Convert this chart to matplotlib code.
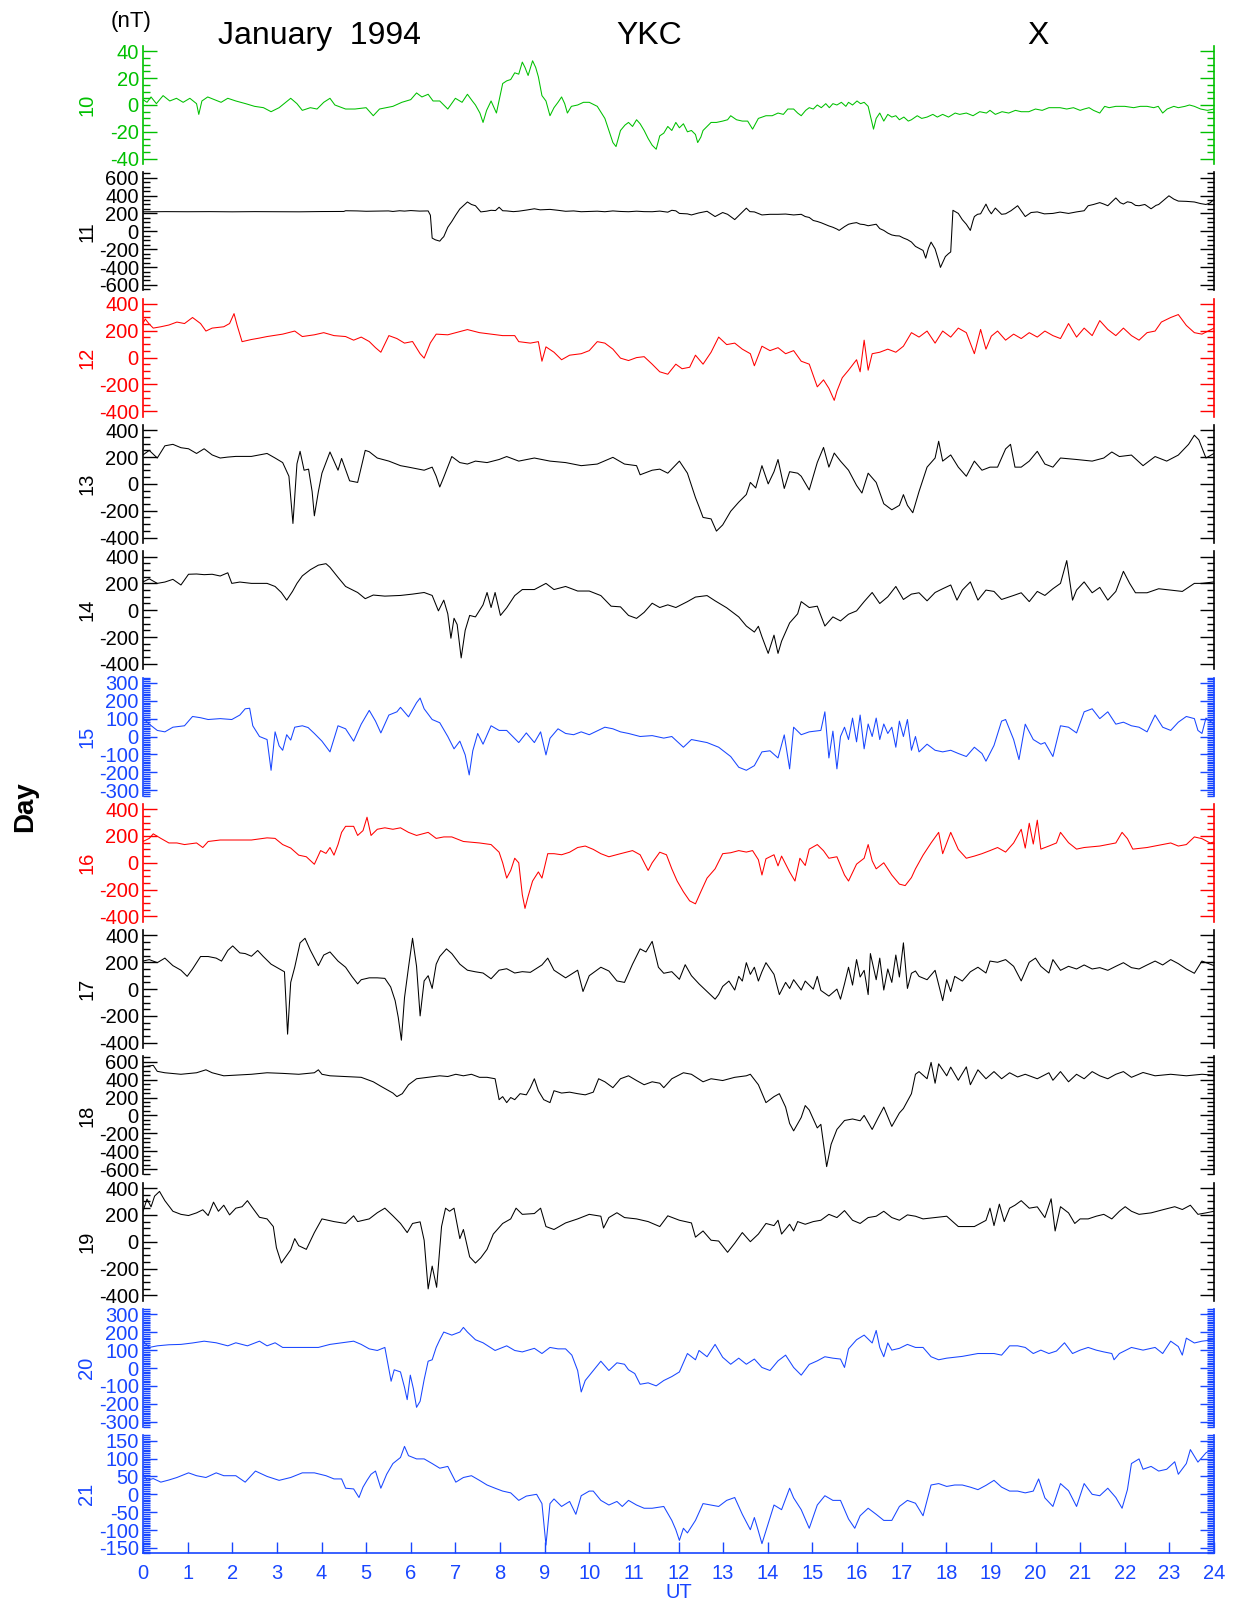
import matplotlib
matplotlib.use("Agg")
import matplotlib.pyplot as plt
from matplotlib.ticker import MultipleLocator

plt.rcParams['font.family'] = ['Liberation Sans', 'DejaVu Sans']
plt.rcParams['axes.unicode_minus'] = False

GREEN = '#00c000'
RED = '#ff0000'
BLUE = '#1846ff'
BLACK = '#000000'

# YKC X component, nT as (UT hour, value) pairs
day10 = [(0.0, 4), (0.09, 2), (0.18, 6), (0.3, 1), (0.45, 7), (0.6, 3), (0.75, 5), (0.9, 2), (1.05, 5), (1.2, 1),
         (1.25, -7), (1.32, 3), (1.45, 6), (1.6, 4), (1.75, 2), (1.9, 5), (2.08, 3), (2.3, 1), (2.5, -1), (2.7, -2),
         (2.87, -5), (3.05, -2), (3.2, 2), (3.31, 5), (3.45, 1), (3.57, -4), (3.75, -2), (3.9, -3), (4.05, 2),
         (4.19, 5), (4.3, 0), (4.54, -3), (4.75, -3), (5.0, -2), (5.16, -8), (5.3, -3), (5.45, -2), (5.6, -1),
         (5.8, 2), (6.0, 4), (6.13, 9), (6.25, 6), (6.39, 8), (6.5, 3), (6.65, 3), (6.83, -3), (7.0, 5), (7.15, 2),
         (7.27, 8), (7.38, 3), (7.45, 0), (7.55, -6), (7.62, -13), (7.7, -4), (7.8, 3), (7.92, -6), (8.06, 16),
         (8.15, 18), (8.24, 19), (8.33, 24), (8.42, 23), (8.5, 32), (8.56, 28), (8.63, 22), (8.73, 33), (8.8, 28),
         (8.86, 21), (8.94, 7), (9.03, 3), (9.12, -8), (9.21, -2), (9.3, 2), (9.38, 6), (9.45, 1), (9.51, -6),
         (9.6, -1), (9.74, 0), (9.87, 2), (10.0, 2), (10.18, -1), (10.35, -10), (10.45, -20), (10.53, -28),
         (10.6, -31), (10.7, -19), (10.8, -15), (10.88, -13), (10.97, -16), (11.06, -11), (11.14, -14),
         (11.23, -19), (11.32, -25), (11.41, -30), (11.5, -33), (11.58, -23), (11.67, -21), (11.76, -16),
         (11.85, -19), (11.94, -13), (12.02, -17), (12.11, -14), (12.2, -20), (12.29, -19), (12.38, -22),
         (12.43, -28), (12.5, -24), (12.55, -19), (12.64, -16), (12.73, -13), (12.85, -13), (12.99, -12),
         (13.1, -11), (13.17, -8), (13.3, -11), (13.43, -12), (13.55, -12), (13.66, -18), (13.79, -10),
         (13.96, -8), (14.1, -8), (14.23, -6), (14.35, -7), (14.45, -3), (14.58, -3), (14.67, -6), (14.75, -8),
         (14.85, -4), (14.93, -2), (15.02, -3), (15.11, 0), (15.2, -2), (15.3, 1), (15.38, -2), (15.46, 1),
         (15.55, 0), (15.65, 2), (15.75, -1), (15.81, 2), (15.9, 0), (16.0, 3), (16.08, 1), (16.16, 2),
         (16.25, -1), (16.3, -8), (16.37, -18), (16.43, -10), (16.51, -6), (16.6, -12), (16.69, -7), (16.78, -9),
         (16.87, -8), (16.95, -11), (17.05, -9), (17.15, -12), (17.22, -11), (17.35, -8), (17.45, -10),
         (17.57, -9), (17.7, -7), (17.8, -9), (17.92, -7), (18.05, -9), (18.2, -6), (18.3, -7), (18.45, -6),
         (18.6, -8), (18.75, -5), (18.9, -6), (18.98, -4), (19.1, -7), (19.25, -5), (19.4, -6), (19.55, -4),
         (19.68, -5), (19.85, -5), (20.0, -3), (20.15, -4), (20.3, -2), (20.39, -2), (20.55, -2), (20.7, -3),
         (20.85, -2), (21.0, -4), (21.09, -3), (21.2, -2), (21.3, -4), (21.44, -6), (21.55, -1), (21.65, -2),
         (21.8, -1), (22.0, -1), (22.2, -2), (22.35, -1), (22.5, -1), (22.65, -2), (22.75, -1), (22.85, -6),
         (22.95, -3), (23.1, -1), (23.2, -2), (23.35, -1), (23.45, 0), (23.56, -1), (23.7, -3), (23.85, -4),
         (24.0, -3)]

day11 = [(0.0, 218), (0.5, 220), (1.0, 219), (1.5, 220), (2.0, 218), (2.5, 220), (3.0, 219), (3.5, 218),
         (4.0, 221), (4.5, 222), (4.54, 230), (4.8, 228), (5.0, 224), (5.25, 226), (5.5, 228), (5.6, 222),
         (5.75, 230), (5.86, 226), (6.0, 232), (6.2, 226), (6.39, 228), (6.44, 180), (6.48, -76), (6.55, -95),
         (6.65, -110), (6.7, -80), (6.74, -60), (6.83, 45), (6.92, 110), (7.01, 183), (7.1, 250), (7.18, 286),
         (7.27, 328), (7.36, 300), (7.45, 286), (7.57, 217), (7.7, 225), (7.8, 235), (7.9, 232), (7.98, 269),
         (8.06, 230), (8.15, 228), (8.3, 220), (8.42, 225), (8.6, 238), (8.77, 252), (8.9, 240), (9.12, 245),
         (9.3, 235), (9.47, 224), (9.65, 228), (9.82, 219), (10.0, 222), (10.18, 225), (10.35, 219), (10.53, 228),
         (10.7, 222), (10.88, 219), (11.06, 225), (11.23, 220), (11.41, 219), (11.58, 226), (11.76, 214),
         (11.85, 235), (11.94, 229), (12.02, 200), (12.2, 195), (12.29, 183), (12.45, 205), (12.64, 224),
         (12.82, 165), (12.99, 210), (13.1, 190), (13.26, 131), (13.35, 175), (13.52, 259), (13.6, 220),
         (13.7, 217), (13.87, 183), (14.05, 190), (14.23, 190), (14.4, 193), (14.58, 183), (14.75, 190),
         (14.84, 165), (14.93, 155), (15.02, 121), (15.11, 110), (15.2, 95), (15.28, 79), (15.37, 60), (15.46, 45),
         (15.55, 25), (15.6, 10), (15.72, 52), (15.81, 79), (15.9, 90), (15.99, 97), (16.07, 80), (16.16, 75),
         (16.25, 62), (16.34, 70), (16.43, 79), (16.51, 30), (16.6, 10), (16.69, -20), (16.78, -41), (16.87, -50),
         (16.95, -52), (17.04, -75), (17.13, -93), (17.22, -120), (17.31, -169), (17.39, -190), (17.48, -214),
         (17.54, -300), (17.6, -190), (17.66, -121), (17.75, -197), (17.83, -330), (17.87, -404), (17.92, -350),
         (17.98, -283), (18.05, -250), (18.1, -231), (18.15, 235), (18.2, 220), (18.27, 200), (18.36, 130),
         (18.45, 79), (18.54, 10), (18.6, 120), (18.63, 165), (18.7, 190), (18.77, 196), (18.89, 304), (18.95, 240),
         (19.01, 196), (19.1, 260), (19.15, 235), (19.24, 190), (19.33, 196), (19.45, 230), (19.6, 286),
         (19.7, 215), (19.77, 165), (19.9, 210), (20.04, 217), (20.2, 195), (20.39, 200), (20.55, 215),
         (20.74, 200), (20.92, 217), (21.09, 230), (21.18, 286), (21.3, 300), (21.44, 321), (21.53, 305),
         (21.62, 286), (21.71, 330), (21.8, 373), (21.9, 320), (21.97, 305), (22.06, 330), (22.15, 321),
         (22.24, 290), (22.32, 286), (22.45, 300), (22.59, 252), (22.7, 290), (22.76, 300), (22.9, 360),
         (22.99, 397), (23.1, 360), (23.2, 338), (23.38, 335), (23.56, 328), (23.7, 310), (23.82, 300),
         (23.91, 318), (24.0, 355)]

day12 = [(0.0, 254), (0.05, 288), (0.14, 250), (0.23, 220), (0.4, 230), (0.58, 243), (0.76, 265), (0.93, 254),
         (1.11, 299), (1.29, 254), (1.41, 198), (1.55, 220), (1.81, 230), (1.94, 254), (2.04, 328), (2.11, 240),
         (2.22, 119), (2.43, 135), (2.6, 145), (2.78, 157), (3.0, 168), (3.13, 175), (3.4, 198), (3.57, 157),
         (3.84, 170), (4.05, 186), (4.28, 164), (4.54, 157), (4.72, 130), (4.89, 153), (5.07, 120), (5.21, 74),
         (5.33, 40), (5.51, 164), (5.69, 142), (5.86, 108), (6.04, 120), (6.21, 29), (6.3, -4), (6.44, 110),
         (6.57, 175), (6.83, 170), (7.01, 186), (7.27, 209), (7.54, 186), (7.8, 175), (8.06, 164), (8.33, 164),
         (8.42, 119), (8.68, 108), (8.86, 119), (8.94, -27), (9.03, 80), (9.21, 40), (9.38, -16), (9.56, 18),
         (9.82, 29), (10.0, 52), (10.18, 119), (10.35, 108), (10.53, 63), (10.7, -4), (10.88, -22), (11.06, 0),
         (11.23, 7), (11.41, -49), (11.58, -106), (11.76, -124), (11.94, -49), (12.08, -83), (12.25, -72),
         (12.38, 18), (12.55, -49), (12.73, 40), (12.9, 153), (13.08, 97), (13.26, 108), (13.43, 63), (13.61, 29),
         (13.7, -61), (13.87, 85), (14.05, 52), (14.23, 74), (14.4, 29), (14.58, 52), (14.75, -27), (14.93, -49),
         (15.11, -218), (15.25, -166), (15.37, -229), (15.49, -319), (15.55, -250), (15.67, -150), (15.81, -94),
         (15.99, -16), (16.07, -106), (16.16, 130), (16.25, -94), (16.34, 29), (16.51, 40), (16.69, 63),
         (16.87, 40), (17.04, 85), (17.22, 186), (17.39, 153), (17.57, 198), (17.75, 108), (17.92, 198),
         (18.1, 153), (18.27, 220), (18.45, 186), (18.63, 29), (18.77, 210), (18.89, 63), (19.01, 160),
         (19.15, 198), (19.33, 130), (19.51, 175), (19.68, 142), (19.86, 186), (20.04, 153), (20.21, 198),
         (20.39, 164), (20.56, 142), (20.74, 254), (20.92, 153), (21.09, 220), (21.27, 164), (21.44, 276),
         (21.62, 210), (21.8, 164), (21.97, 220), (22.15, 164), (22.32, 130), (22.5, 186), (22.68, 198),
         (22.82, 265), (23.03, 299), (23.2, 321), (23.38, 240), (23.56, 186), (23.73, 175), (24.0, 220)]

day13 = [(0.0, 216), (0.14, 250), (0.32, 193), (0.49, 284), (0.67, 295), (0.85, 270), (1.02, 262), (1.2, 227),
         (1.37, 262), (1.55, 216), (1.73, 193), (1.9, 200), (2.08, 205), (2.43, 205), (2.78, 227), (2.96, 193),
         (3.13, 159), (3.27, 57), (3.36, -295), (3.45, 150), (3.52, 243), (3.61, 102), (3.71, 110), (3.79, -57),
         (3.84, -238), (3.93, -57), (4.01, 80), (4.19, 238), (4.37, 102), (4.45, 190), (4.63, 23), (4.81, 11),
         (4.98, 250), (5.07, 240), (5.25, 193), (5.51, 170), (5.77, 136), (5.95, 125), (6.3, 102), (6.48, 125),
         (6.57, 57), (6.65, -23), (6.74, 50), (6.92, 204), (7.1, 159), (7.27, 148), (7.45, 170), (7.71, 159),
         (7.98, 182), (8.15, 204), (8.42, 170), (8.77, 193), (9.12, 170), (9.47, 159), (9.82, 136), (10.18, 148),
         (10.53, 198), (10.79, 148), (11.06, 136), (11.14, 68), (11.41, 102), (11.58, 110), (11.76, 80),
         (12.02, 170), (12.2, 80), (12.29, -11), (12.38, -102), (12.46, -170), (12.55, -250), (12.73, -261),
         (12.85, -352), (12.99, -306), (13.17, -204), (13.35, -136), (13.52, -79), (13.61, 11), (13.73, -30),
         (13.87, 136), (14.01, 0), (14.14, 91), (14.23, 182), (14.37, -34), (14.49, 91), (14.67, 80), (14.75, 57),
         (14.93, -45), (15.11, 160), (15.25, 272), (15.37, 125), (15.49, 230), (15.63, 170), (15.81, 102),
         (15.99, -11), (16.11, -68), (16.25, 80), (16.43, 11), (16.6, -148), (16.78, -193), (16.95, -160),
         (17.04, -80), (17.13, -160), (17.25, -215), (17.39, -57), (17.57, 125), (17.75, 193), (17.83, 318),
         (17.92, 170), (18.1, 216), (18.27, 125), (18.45, 57), (18.63, 170), (18.8, 102), (18.98, 125),
         (19.15, 125), (19.33, 261), (19.44, 295), (19.54, 125), (19.68, 125), (19.86, 170), (20.04, 243),
         (20.21, 148), (20.39, 125), (20.56, 193), (20.92, 182), (21.27, 170), (21.53, 193), (21.71, 238),
         (21.88, 204), (22.15, 215), (22.41, 136), (22.68, 204), (22.94, 170), (23.2, 215), (23.43, 295),
         (23.56, 363), (23.66, 329), (23.82, 193), (24.0, 227)]

day14 = [(0.0, 211), (0.14, 234), (0.32, 200), (0.49, 210), (0.67, 230), (0.85, 188), (1.02, 268), (1.2, 270),
         (1.37, 265), (1.55, 268), (1.73, 255), (1.9, 279), (1.99, 200), (2.17, 210), (2.43, 200), (2.78, 200),
         (2.96, 177), (3.1, 132), (3.22, 75), (3.35, 140), (3.45, 200), (3.57, 256), (3.75, 302), (3.93, 336),
         (4.1, 347), (4.19, 320), (4.37, 245), (4.54, 177), (4.81, 132), (4.98, 86), (5.16, 113), (5.42, 105),
         (5.77, 110), (6.04, 120), (6.3, 132), (6.48, 110), (6.62, -5), (6.74, 75), (6.83, -27), (6.9, -209),
         (6.97, -60), (7.04, -107), (7.13, -356), (7.22, -150), (7.32, -39), (7.45, -50), (7.62, 40), (7.71, 132),
         (7.8, 20), (7.89, 132), (8.01, -39), (8.15, 18), (8.33, 109), (8.5, 154), (8.77, 154), (9.03, 200),
         (9.21, 154), (9.47, 177), (9.74, 143), (10.0, 143), (10.26, 109), (10.49, 30), (10.7, 25), (10.88, -39),
         (11.06, -61), (11.23, -16), (11.41, 52), (11.58, 20), (11.76, 40), (11.94, 20), (12.2, 64), (12.38, 98),
         (12.64, 109), (12.82, 70), (13.08, 18), (13.35, -50), (13.52, -118), (13.7, -163), (13.79, -120),
         (13.87, -198), (14.01, -322), (14.14, -186), (14.23, -322), (14.31, -231), (14.49, -95), (14.67, -27),
         (14.75, 64), (14.93, 20), (15.11, 30), (15.28, -118), (15.46, -50), (15.63, -80), (15.81, -30),
         (15.99, -5), (16.16, 64), (16.34, 132), (16.51, 50), (16.69, 100), (16.87, 177), (17.04, 80),
         (17.22, 120), (17.39, 130), (17.57, 70), (17.75, 132), (17.92, 160), (18.1, 188), (18.24, 75),
         (18.36, 150), (18.54, 211), (18.71, 75), (18.89, 150), (19.07, 140), (19.24, 80), (19.51, 110),
         (19.68, 130), (19.86, 64), (20.04, 140), (20.21, 110), (20.39, 160), (20.56, 200), (20.7, 370),
         (20.83, 75), (20.92, 150), (21.09, 211), (21.27, 130), (21.44, 170), (21.62, 75), (21.8, 140),
         (21.97, 290), (22.11, 200), (22.24, 130), (22.5, 130), (22.76, 160), (23.03, 150), (23.29, 140),
         (23.56, 200), (23.73, 200), (24.0, 211)]

day15 = [(0.0, 103), (0.14, 69), (0.32, 34), (0.49, 26), (0.67, 52), (0.93, 60), (1.11, 112), (1.29, 105),
         (1.46, 95), (1.73, 100), (1.99, 95), (2.17, 120), (2.29, 155), (2.39, 158), (2.46, 60), (2.61, 0),
         (2.78, -17), (2.87, -189), (2.96, 26), (3.05, -52), (3.13, -77), (3.22, 10), (3.31, -20), (3.4, 52),
         (3.57, 60), (3.7, 50), (3.84, 17), (4.01, -26), (4.19, -86), (4.37, 60), (4.54, 43), (4.72, -26),
         (4.89, 69), (5.07, 146), (5.21, 86), (5.33, 20), (5.51, 120), (5.69, 138), (5.77, 163), (5.95, 110),
         (6.13, 189), (6.21, 215), (6.3, 155), (6.48, 95), (6.65, 77), (6.83, 0), (6.97, -69), (7.1, -26),
         (7.22, -103), (7.31, -215), (7.39, -80), (7.5, 17), (7.62, -43), (7.8, 60), (7.98, 34), (8.15, 34),
         (8.42, -34), (8.59, 20), (8.77, -34), (8.91, 26), (9.03, -103), (9.12, -10), (9.3, 43), (9.47, 17),
         (9.65, 10), (9.82, 26), (10.0, 10), (10.35, 52), (10.53, 43), (10.7, 26), (10.88, 17), (11.14, 0),
         (11.41, 5), (11.67, -9), (11.85, 0), (12.11, -60), (12.29, -17), (12.64, -34), (12.9, -60), (13.17, -112),
         (13.35, -172), (13.52, -189), (13.7, -163), (13.87, -86), (14.05, -80), (14.23, -120), (14.37, 9),
         (14.49, -181), (14.58, 52), (14.75, 10), (14.93, 26), (15.19, 34), (15.28, 138), (15.37, -120),
         (15.46, 30), (15.55, -181), (15.63, 0), (15.72, 52), (15.81, -17), (15.9, 103), (15.99, -30),
         (16.07, 120), (16.16, -69), (16.25, 70), (16.34, 0), (16.43, 103), (16.51, -17), (16.6, 70), (16.69, 17),
         (16.78, 52), (16.87, -60), (16.95, 86), (17.04, 0), (17.13, 95), (17.22, -77), (17.31, 0), (17.39, -86),
         (17.57, -43), (17.75, -77), (17.92, -86), (18.1, -77), (18.27, -95), (18.45, -112), (18.63, -60),
         (18.8, -95), (18.89, -138), (19.07, -50), (19.24, 86), (19.33, 95), (19.51, -17), (19.63, -129),
         (19.77, 69), (19.95, -17), (20.12, -43), (20.21, -34), (20.39, -112), (20.56, 60), (20.74, 52),
         (20.92, 20), (21.09, 138), (21.27, 155), (21.44, 100), (21.62, 138), (21.8, 69), (21.97, 80), (22.15, 60),
         (22.32, 52), (22.5, 26), (22.68, 120), (22.85, 52), (23.03, 34), (23.2, 80), (23.38, 112), (23.56, 100),
         (23.64, 34), (23.73, 17), (23.82, 103), (24.0, 69)]

day16 = [(0.0, 159), (0.14, 182), (0.23, 216), (0.4, 182), (0.58, 148), (0.76, 148), (0.93, 136), (1.2, 148),
         (1.34, 114), (1.46, 159), (1.73, 170), (2.08, 170), (2.43, 170), (2.78, 186), (2.96, 182), (3.13, 136),
         (3.31, 110), (3.49, 57), (3.66, 45), (3.84, -11), (3.98, 91), (4.1, 70), (4.19, 114), (4.28, 57),
         (4.37, 136), (4.45, 227), (4.54, 272), (4.72, 272), (4.81, 204), (4.93, 240), (5.02, 340), (5.11, 204),
         (5.25, 250), (5.42, 261), (5.6, 250), (5.77, 261), (5.95, 227), (6.13, 204), (6.39, 227), (6.57, 182),
         (6.74, 193), (6.92, 193), (7.18, 159), (7.54, 148), (7.8, 136), (7.98, 79), (8.06, 0), (8.15, -114),
         (8.24, -57), (8.33, 34), (8.42, 0), (8.5, -238), (8.56, -340), (8.63, -250), (8.73, -136), (8.86, -68),
         (8.94, -114), (9.07, 68), (9.21, 68), (9.38, 60), (9.56, 79), (9.74, 114), (9.91, 125), (10.09, 100),
         (10.26, 68), (10.44, 45), (10.7, 68), (10.97, 91), (11.14, 60), (11.32, -57), (11.41, 0), (11.58, 79),
         (11.73, 60), (11.85, -45), (11.97, -136), (12.11, -216), (12.25, -284), (12.38, -306), (12.5, -216),
         (12.64, -114), (12.82, -45), (12.99, 68), (13.17, 75), (13.35, 91), (13.52, 80), (13.66, 91), (13.79, 23),
         (13.87, -91), (13.96, 30), (14.14, 60), (14.23, -23), (14.31, 50), (14.49, -68), (14.61, -136),
         (14.72, 34), (14.84, -20), (14.93, 102), (15.11, 136), (15.25, 90), (15.37, 34), (15.55, 45), (15.72, -91),
         (15.81, -136), (15.99, -10), (16.16, 34), (16.25, 136), (16.34, 15), (16.43, -45), (16.6, 0),
         (16.78, -91), (16.95, -159), (17.08, -170), (17.22, -110), (17.31, -45), (17.48, 57), (17.66, 148),
         (17.83, 227), (17.92, 68), (18.1, 227), (18.27, 100), (18.45, 34), (18.63, 50), (18.8, 68), (18.98, 91),
         (19.15, 114), (19.33, 80), (19.51, 148), (19.68, 250), (19.77, 110), (19.86, 295), (19.95, 140),
         (20.04, 318), (20.12, 102), (20.3, 125), (20.47, 148), (20.56, 227), (20.74, 150), (20.92, 102),
         (21.09, 114), (21.44, 125), (21.8, 148), (21.94, 227), (22.06, 180), (22.18, 102), (22.5, 114),
         (22.85, 136), (23.03, 148), (23.2, 125), (23.38, 136), (23.56, 193), (23.73, 180), (23.91, 148),
         (24.0, 155)]

day17 = [(0.0, 209), (0.14, 220), (0.32, 197), (0.49, 231), (0.67, 175), (0.85, 141), (0.99, 95), (1.11, 150),
         (1.29, 243), (1.46, 243), (1.64, 231), (1.76, 209), (1.9, 288), (2.01, 322), (2.17, 270), (2.29, 265),
         (2.43, 245), (2.57, 288), (2.69, 245), (2.87, 186), (3.05, 152), (3.17, 129), (3.24, -336), (3.31, 50),
         (3.4, 163), (3.52, 345), (3.63, 379), (3.75, 290), (3.93, 175), (4.05, 254), (4.19, 277), (4.37, 209),
         (4.54, 163), (4.68, 95), (4.81, 39), (4.89, 70), (5.07, 84), (5.25, 84), (5.42, 80), (5.55, 16),
         (5.65, -86), (5.72, -211), (5.79, -381), (5.86, -64), (5.95, 163), (6.04, 379), (6.13, 170), (6.21, -200),
         (6.3, 61), (6.39, 100), (6.48, 5), (6.57, 186), (6.65, 243), (6.8, 300), (6.92, 265), (7.1, 186),
         (7.27, 141), (7.45, 129), (7.62, 120), (7.8, 77), (7.98, 141), (8.15, 152), (8.33, 120), (8.5, 130),
         (8.68, 125), (8.86, 163), (8.94, 180), (9.07, 231), (9.21, 141), (9.47, 84), (9.74, 141), (9.86, -18),
         (10.0, 100), (10.26, 163), (10.44, 135), (10.62, 61), (10.79, 50), (10.97, 186), (11.14, 300),
         (11.27, 277), (11.41, 356), (11.55, 163), (11.67, 118), (11.85, 130), (12.02, 73), (12.15, 182),
         (12.29, 100), (12.46, 39), (12.64, -18), (12.82, -75), (12.9, -40), (12.99, 20), (13.13, 60), (13.26, -7),
         (13.35, 95), (13.43, 60), (13.52, 197), (13.61, 110), (13.7, 163), (13.79, 60), (13.87, 130),
         (13.96, 197), (14.14, 110), (14.26, -41), (14.4, 50), (14.49, 5), (14.58, 70), (14.75, -7), (14.84, 60),
         (15.02, 0), (15.11, 95), (15.19, -10), (15.37, -52), (15.55, 0), (15.63, -75), (15.72, 39), (15.81, 163),
         (15.9, 30), (15.99, 220), (16.07, 90), (16.16, 140), (16.25, -41), (16.3, 265), (16.43, 70), (16.51, 231),
         (16.6, -7), (16.69, 150), (16.78, 50), (16.87, 254), (16.95, 90), (17.04, 345), (17.13, 5), (17.22, 118),
         (17.31, 135), (17.39, 95), (17.57, 70), (17.75, 140), (17.92, -86), (18.01, 70), (18.1, -18), (18.19, 95),
         (18.36, 60), (18.54, 129), (18.71, 163), (18.89, 120), (18.98, 209), (19.15, 200), (19.33, 220),
         (19.51, 170), (19.68, 61), (19.86, 200), (20.0, 231), (20.12, 170), (20.3, 120), (20.39, 220),
         (20.56, 140), (20.74, 170), (20.92, 150), (21.09, 180), (21.27, 150), (21.44, 160), (21.62, 140),
         (21.8, 170), (21.97, 197), (22.15, 160), (22.32, 150), (22.5, 180), (22.68, 209), (22.85, 180),
         (23.03, 220), (23.2, 190), (23.38, 150), (23.56, 118), (23.73, 209), (24.0, 175)]

day18 = [(0.0, 543), (0.23, 560), (0.32, 493), (0.49, 477), (0.85, 460), (1.2, 477), (1.41, 510), (1.55, 477),
         (1.81, 443), (2.08, 450), (2.43, 460), (2.78, 477), (3.13, 470), (3.49, 460), (3.84, 477), (3.93, 510),
         (4.01, 460), (4.19, 443), (4.54, 435), (4.89, 426), (5.16, 376), (5.33, 326), (5.51, 276), (5.6, 250),
         (5.69, 210), (5.81, 243), (5.95, 343), (6.13, 410), (6.39, 426), (6.65, 443), (6.83, 435), (7.01, 460),
         (7.18, 443), (7.36, 460), (7.54, 426), (7.71, 426), (7.89, 410), (7.98, 176), (8.06, 210), (8.15, 143),
         (8.24, 200), (8.33, 176), (8.45, 243), (8.59, 230), (8.68, 310), (8.77, 410), (8.86, 276), (8.98, 176),
         (9.12, 143), (9.21, 276), (9.38, 250), (9.56, 260), (9.74, 243), (9.91, 230), (10.09, 260), (10.21, 410),
         (10.35, 376), (10.53, 310), (10.7, 410), (10.88, 443), (11.06, 390), (11.23, 343), (11.41, 376),
         (11.58, 360), (11.67, 310), (11.85, 410), (12.11, 477), (12.29, 460), (12.55, 376), (12.73, 410),
         (12.99, 390), (13.26, 426), (13.52, 443), (13.61, 460), (13.79, 343), (13.96, 143), (14.14, 210),
         (14.26, 243), (14.4, 93), (14.49, -90), (14.58, -173), (14.75, -23), (14.84, 110), (14.93, 60),
         (15.11, -140), (15.19, -100), (15.32, -573), (15.42, -323), (15.55, -157), (15.72, -57), (15.9, -40),
         (16.07, -60), (16.16, 0), (16.34, -157), (16.48, -20), (16.6, 93), (16.78, -123), (16.95, 27), (17.04, 77),
         (17.22, 243), (17.31, 460), (17.39, 490), (17.57, 410), (17.66, 593), (17.75, 360), (17.83, 577),
         (18.01, 443), (18.1, 540), (18.27, 393), (18.45, 543), (18.54, 343), (18.71, 510), (18.89, 410),
         (19.07, 490), (19.24, 410), (19.42, 477), (19.6, 430), (19.77, 460), (20.04, 410), (20.3, 477),
         (20.39, 393), (20.56, 490), (20.74, 376), (20.92, 460), (21.09, 410), (21.27, 490), (21.44, 443),
         (21.62, 410), (21.8, 460), (21.97, 490), (22.15, 426), (22.41, 480), (22.68, 443), (23.03, 460),
         (23.38, 443), (23.73, 460), (24.0, 450)]

day19 = [(0.0, 227), (0.09, 318), (0.18, 260), (0.26, 340), (0.37, 375), (0.49, 306), (0.67, 227), (0.85, 204),
         (1.02, 195), (1.2, 215), (1.34, 238), (1.46, 195), (1.58, 295), (1.69, 227), (1.81, 272), (1.94, 200),
         (2.08, 250), (2.22, 261), (2.34, 306), (2.46, 250), (2.61, 182), (2.78, 170), (2.92, 113), (2.99, -45),
         (3.1, -159), (3.22, -102), (3.31, -60), (3.4, 23), (3.49, -30), (3.66, -57), (3.84, 68), (4.01, 170),
         (4.28, 150), (4.54, 136), (4.72, 193), (4.81, 150), (5.07, 170), (5.25, 216), (5.42, 250), (5.6, 193),
         (5.77, 136), (5.92, 68), (6.04, 136), (6.21, 148), (6.3, 11), (6.39, -352), (6.48, -182), (6.58, -340),
         (6.69, 113), (6.78, 250), (6.87, 227), (6.97, 250), (7.1, 23), (7.18, 91), (7.32, -113), (7.45, -159),
         (7.57, -120), (7.71, -57), (7.85, 57), (8.06, 136), (8.24, 170), (8.36, 250), (8.5, 204), (8.77, 210),
         (8.91, 250), (9.03, 113), (9.21, 91), (9.47, 140), (9.74, 170), (10.0, 204), (10.26, 190), (10.32, 102),
         (10.44, 180), (10.62, 216), (10.79, 180), (11.06, 170), (11.32, 150), (11.58, 113), (11.76, 193),
         (12.02, 160), (12.29, 140), (12.38, 34), (12.55, 80), (12.73, 11), (12.9, 5), (13.1, -79), (13.26, -11),
         (13.43, 68), (13.61, 0), (13.79, 57), (13.96, 136), (14.14, 120), (14.23, 160), (14.31, 57), (14.49, 130),
         (14.58, 80), (14.67, 150), (14.84, 130), (15.02, 150), (15.19, 160), (15.37, 204), (15.55, 180),
         (15.72, 232), (15.9, 160), (16.07, 136), (16.25, 180), (16.43, 190), (16.6, 227), (16.78, 180),
         (16.95, 160), (17.13, 200), (17.31, 190), (17.48, 170), (17.75, 180), (18.01, 190), (18.27, 113),
         (18.63, 113), (18.89, 159), (18.98, 250), (19.07, 120), (19.19, 280), (19.3, 150), (19.42, 250),
         (19.54, 272), (19.68, 306), (19.86, 250), (20.04, 260), (20.21, 180), (20.35, 320), (20.44, 80),
         (20.56, 261), (20.74, 215), (20.88, 136), (21.0, 170), (21.18, 170), (21.36, 190), (21.53, 204),
         (21.71, 170), (21.88, 227), (22.01, 261), (22.15, 227), (22.32, 204), (22.59, 215), (22.85, 238),
         (23.12, 261), (23.29, 240), (23.47, 272), (23.64, 204), (23.82, 215), (24.0, 227)]

day20 = [(0.0, 150), (0.14, 115), (0.32, 124), (0.58, 130), (0.85, 132), (1.11, 140), (1.37, 150), (1.64, 141),
         (1.9, 124), (2.08, 141), (2.34, 124), (2.61, 150), (2.78, 124), (2.96, 141), (3.13, 115), (3.4, 115),
         (3.66, 115), (3.93, 115), (4.19, 132), (4.45, 141), (4.72, 150), (4.89, 132), (5.07, 107), (5.25, 98),
         (5.42, 115), (5.51, -5), (5.56, -74), (5.63, -10), (5.77, -22), (5.86, -108), (5.92, -177), (5.99, -40),
         (6.06, -117), (6.13, -220), (6.21, -186), (6.3, -65), (6.39, 38), (6.48, 46), (6.57, 115), (6.65, 158),
         (6.74, 201), (6.92, 184), (7.1, 201), (7.18, 227), (7.27, 201), (7.45, 158), (7.62, 141), (7.89, 98),
         (8.15, 124), (8.33, 98), (8.5, 90), (8.77, 110), (8.94, 81), (9.12, 115), (9.3, 107), (9.47, 107),
         (9.61, 72), (9.74, -14), (9.82, -134), (9.91, -70), (10.09, -14), (10.26, 38), (10.44, -14), (10.62, 29),
         (10.79, 21), (10.88, -10), (11.02, -31), (11.14, -91), (11.32, -83), (11.5, -100), (11.67, -70),
         (11.85, -48), (12.02, -22), (12.2, 81), (12.38, 46), (12.46, 98), (12.64, 63), (12.82, 132), (12.99, 60),
         (13.17, 21), (13.35, 55), (13.52, 21), (13.7, 50), (13.87, 3), (14.05, -14), (14.23, 40), (14.4, 72),
         (14.58, 3), (14.75, -40), (14.93, 20), (15.11, 40), (15.28, 63), (15.46, 55), (15.63, 50), (15.72, 3),
         (15.81, 107), (15.99, 158), (16.16, 184), (16.34, 140), (16.43, 210), (16.51, 115), (16.6, 63),
         (16.69, 140), (16.78, 100), (16.95, 110), (17.13, 132), (17.31, 115), (17.48, 115), (17.66, 63),
         (17.83, 46), (18.01, 55), (18.19, 60), (18.36, 65), (18.71, 81), (19.07, 81), (19.24, 72), (19.42, 124),
         (19.6, 124), (19.77, 115), (19.95, 81), (20.12, 100), (20.3, 81), (20.47, 95), (20.65, 141), (20.83, 81),
         (21.0, 100), (21.18, 115), (21.36, 100), (21.53, 90), (21.71, 81), (21.76, 46), (21.88, 81), (22.15, 115),
         (22.41, 100), (22.68, 115), (22.85, 81), (23.03, 150), (23.2, 120), (23.29, 72), (23.38, 167),
         (23.56, 140), (23.73, 150), (24.0, 158)]

day21 = [(0.0, 56), (0.09, 39), (0.23, 44), (0.4, 34), (0.58, 40), (0.76, 47), (1.02, 60), (1.2, 52), (1.41, 47),
         (1.64, 60), (1.81, 52), (2.08, 52), (2.29, 34), (2.52, 65), (2.78, 50), (3.05, 39), (3.31, 47), (3.57, 60),
         (3.84, 60), (4.1, 52), (4.28, 43), (4.45, 43), (4.54, 17), (4.72, 15), (4.84, -9), (4.93, 20), (5.02, 39),
         (5.11, 56), (5.21, 65), (5.33, 17), (5.46, 56), (5.6, 86), (5.77, 103), (5.86, 134), (5.95, 108),
         (6.13, 99), (6.3, 99), (6.48, 86), (6.65, 73), (6.83, 78), (7.01, 34), (7.18, 47), (7.36, 52), (7.54, 39),
         (7.71, 26), (7.89, 17), (8.06, 9), (8.24, 4), (8.42, -17), (8.59, -5), (8.82, 0), (8.94, -26),
         (9.03, -142), (9.12, -26), (9.21, -13), (9.38, -34), (9.56, -20), (9.7, -56), (9.82, -4), (10.0, 9),
         (10.09, 9), (10.26, -17), (10.44, -30), (10.62, -20), (10.74, -34), (10.88, -17), (11.06, -30),
         (11.23, -39), (11.41, -39), (11.67, -34), (11.85, -73), (11.94, -99), (12.02, -129), (12.11, -95),
         (12.2, -108), (12.38, -73), (12.55, -26), (12.73, -30), (12.9, -34), (13.08, -17), (13.26, -9),
         (13.43, -56), (13.61, -99), (13.7, -65), (13.79, -103), (13.87, -138), (14.01, -82), (14.14, -30),
         (14.31, -43), (14.49, 17), (14.58, -10), (14.75, -43), (14.93, -95), (15.11, -30), (15.28, -4),
         (15.46, -17), (15.63, -17), (15.81, -69), (15.95, -95), (16.07, -60), (16.25, -39), (16.43, -56),
         (16.6, -73), (16.78, -73), (16.95, -34), (17.13, -17), (17.31, -25), (17.48, -60), (17.66, 26),
         (17.83, 30), (18.01, 22), (18.19, 26), (18.36, 26), (18.54, 20), (18.71, 13), (18.89, 25), (19.07, 39),
         (19.24, 20), (19.42, 9), (19.6, 9), (19.77, 4), (19.95, 9), (20.07, 43), (20.21, -10), (20.39, -34),
         (20.56, 30), (20.74, 10), (20.92, -34), (21.09, 30), (21.27, 0), (21.44, -4), (21.62, 17), (21.8, -9),
         (21.94, -39), (22.06, 13), (22.15, 86), (22.32, 99), (22.41, 70), (22.59, 78), (22.76, 65), (22.94, 70),
         (23.12, 91), (23.2, 56), (23.38, 86), (23.47, 125), (23.64, 90), (23.82, 116), (24.0, 129)]

# day label, data, colour, largest tick label, major step, minor step
panels = [
    ('10', day10, GREEN, 40, 20, 5),
    ('11', day11, BLACK, 600, 200, 50),
    ('12', day12, RED, 400, 200, 50),
    ('13', day13, BLACK, 400, 200, 50),
    ('14', day14, BLACK, 400, 200, 50),
    ('15', day15, BLUE, 300, 100, 10),
    ('16', day16, RED, 400, 200, 50),
    ('17', day17, BLACK, 400, 200, 50),
    ('18', day18, BLACK, 600, 200, 50),
    ('19', day19, BLACK, 400, 200, 50),
    ('20', day20, BLUE, 300, 100, 10),
    ('21', day21, BLUE, 150, 50, 5),
]
hours = list(range(0, 25))

W, H = 1234, 1602
fig = plt.figure(figsize=(W / 100, H / 100), dpi=100)

left = 143 / W
width = (1214 - 143) / W
pitch = 126.3
h_px = 118

for i, (label, data, col, top, step, minor) in enumerate(panels):
    top_px = 46 + i * pitch
    ax = fig.add_axes([left, 1 - (top_px + h_px) / H, width, h_px / H])
    ut = [p[0] for p in data]
    nt = [p[1] for p in data]
    ax.plot(ut, nt, color=col, lw=0.75)
    ax.set_xlim(0, 24)
    ax.set_ylim(-1.1 * top, 1.1 * top)
    ax.yaxis.set_major_locator(MultipleLocator(step))
    ax.yaxis.set_minor_locator(MultipleLocator(minor))
    ax.tick_params(axis='y', which='both', direction='in', left=True, right=True,
                   colors=col, labelsize=14.5, pad=3)
    ax.tick_params(axis='y', which='major', length=10, width=1)
    ax.tick_params(axis='y', which='minor', length=5, width=1)
    ax.spines['top'].set_visible(False)
    for s in ('left', 'right', 'bottom'):
        ax.spines[s].set_color(col)
        ax.spines[s].set_linewidth(1.2)
    ax.patch.set_alpha(0)

    fig.text(87 / W, 1 - (top_px + h_px / 2) / H, label, rotation=90, color=col,
             fontsize=14.5, ha='center', va='center')

    if i < len(panels) - 1:
        ax.spines['bottom'].set_visible(False)
        ax.tick_params(axis='x', which='both', bottom=False, labelbottom=False)
    else:
        ax.set_xticks(hours)
        ax.set_xticklabels([str(hh) for hh in hours])
        ax.tick_params(axis='x', direction='in', length=8, width=1, colors=col,
                       labelsize=14.5, pad=8)
        ax.set_xlabel('UT', color=col, fontsize=14.5, labelpad=0)

fig.text(131 / W, 1 - 22 / H, '(nT)', fontsize=16, ha='center', va='center')
fig.text(319 / W, 1 - 36 / H, 'January  1994', fontsize=23, ha='center', va='center')
fig.text(649 / W, 1 - 36 / H, 'YKC', fontsize=23, ha='center', va='center')
fig.text(1038 / W, 1 - 36 / H, 'X', fontsize=23, ha='center', va='center')
fig.text(25 / W, 1 - 807 / H, 'Day', rotation=90, fontsize=20, fontweight='bold',
         ha='center', va='center')

fig.savefig('out.png', dpi=100)
